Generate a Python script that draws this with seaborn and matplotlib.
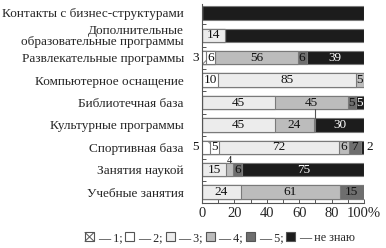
import numpy as np
import pandas as pd
import matplotlib
matplotlib.use("Agg")
import matplotlib.pyplot as plt
from matplotlib.patches import Patch, Rectangle
from matplotlib.lines import Line2D
from matplotlib.legend_handler import HandlerBase
import seaborn as sns

categories = [
    "Контакты с бизнес-структурами",
    "Дополнительные\nобразовательные программы",
    "Развлекательные программы",
    "Компьютерное оснащение",
    "Библиотечная база",
    "Культурные программы",
    "Спортивная база",
    "Занятия наукой",
    "Учебные занятия",
]
series_names = ["1", "2", "3", "4", "5", "не знаю"]
s1 = [0, 0, 3, 0, 0, 0, 5, 0, 0]
s2 = [0, 0, 6, 10, 0, 0, 5, 0, 0]
s3 = [0, 14, 0, 85, 45, 45, 72, 15, 24]
s4 = [0, 0, 56, 5, 45, 24, 6, 4, 61]
s5 = [0, 0, 6, 0, 5, 1, 7, 6, 15]
s6 = [100, 86, 39, 0, 5, 30, 2, 75, 0]
x_ticks = [0, 20, 40, 60, 80, 100]
x_ticklabels = ["0", "20", "40", "60", "80", "100%"]

colors = ["#ffffff", "#ffffff", "#ececec", "#bcbcbc", "#6e6e6e", "#1c1c1c"]
hatches = ["x", None, None, None, None, None]
no_label = {(0, 5), (1, 5), (5, 4)}

sns.set_theme(style="white")
plt.rcParams["font.family"] = ["Liberation Serif", "DejaVu Serif"]
plt.rcParams["hatch.linewidth"] = 0.7

raw = np.array([s1, s2, s3, s4, s5, s6], dtype=float)  # series x rows
totals = raw.sum(axis=0)
norm = raw / totals * 100.0
cum = np.cumsum(norm, axis=0)

df = pd.DataFrame({"category": categories})
for k in range(len(series_names)):
    df[f"cum{k}"] = cum[k]

fig = plt.figure(figsize=(3.86, 2.48), dpi=100)
ax = fig.add_axes([0.523, 0.181, 0.420, 0.803])

for k in range(len(series_names) - 1, -1, -1):
    kw = {}
    if hatches[k]:
        kw["hatch"] = hatches[k]
    sns.barplot(data=df, x=f"cum{k}", y="category", orient="h", color=colors[k],
                saturation=1, width=0.6, edgecolor="#7a7a7a", linewidth=0.8,
                ax=ax, **kw)

ax.set_xlim(0, 100)
ax.set_ylim(8.49, -0.4)
ax.set_xlabel("")
ax.set_ylabel("")
sns.despine(ax=ax, top=True, right=True)
for sp in ["left", "bottom"]:
    ax.spines[sp].set_color("#555555")
    ax.spines[sp].set_linewidth(0.8)

ax.set_xticks(x_ticks)
ax.set_xticklabels(x_ticklabels, fontsize=10.5)
ax.set_xticks(np.arange(10, 100, 10), minor=True)
ax.tick_params(axis="x", which="both", direction="in", length=3, width=0.7,
               color="#555555", bottom=True, pad=3)
ax.set_yticks(range(len(categories)))
ax.set_yticklabels(categories, fontsize=9.5, linespacing=0.95)
ax.set_yticks(np.arange(0.5, len(categories) - 1, 1.0), minor=True)
ax.tick_params(axis="y", which="major", length=0, pad=13)
ax.tick_params(axis="y", which="minor", direction="in", length=3, width=0.7,
               color="#555555", left=True)

# segment labels
for k in range(len(series_names)):
    for r in range(len(categories)):
        v = raw[k, r]
        if v == 0 or (r, k) in no_label:
            continue
        left = cum[k, r] - norm[k, r]
        right = cum[k, r]
        mid = (left + right) / 2
        txt = f"{int(v)}"
        tcolor = "white" if k == 5 else "#111111"
        if k == 0:
            ax.text(-2.0, r, txt, ha="right", va="center", fontsize=9.5,
                    color="#111111", clip_on=False)
        elif norm[k, r] < 2.5 and k == 5:
            ax.text(right + 1.2, r, txt, ha="left", va="center", fontsize=9.5,
                    color="#111111", clip_on=False)
        elif norm[k, r] < 4.5:
            ax.text(mid, r - 0.42, txt, ha="center", va="center", fontsize=7.5,
                    color="#111111")
        else:
            ax.text(mid, r, txt, ha="center", va="center", fontsize=9.5,
                    color=tcolor)

# leader line for the thin segment in "Культурные программы"
r, k = 5, 4
mid = cum[k, r] - norm[k, r] / 2
ax.plot([mid, mid], [r - 0.3, r - 0.72], color="#555555", lw=0.8)


class CrossBoxHandler(HandlerBase):
    def create_artists(self, legend, orig_handle, xdescent, ydescent,
                       width, height, fontsize, trans):
        x0, y0 = -xdescent, -ydescent
        rect = Rectangle((x0, y0), width, height, facecolor="white",
                         edgecolor="#555555", linewidth=0.8, transform=trans)
        l1 = Line2D([x0, x0 + width], [y0, y0 + height], color="#555555",
                    lw=0.7, transform=trans)
        l2 = Line2D([x0, x0 + width], [y0 + height, y0], color="#555555",
                    lw=0.7, transform=trans)
        return [rect, l1, l2]


handles = [Patch(facecolor=colors[k], edgecolor="#555555", linewidth=0.8)
           for k in range(len(series_names))]
labels = [f"— {n};" for n in series_names[:-1]] + [f"— {series_names[-1]}"]
fig.legend(handles, labels, loc="center", bbox_to_anchor=(0.57, 0.04),
           ncol=6, frameon=False, fontsize=8.7, handlelength=0.75, handleheight=0.75,
           handletextpad=0.3, columnspacing=0.25, borderpad=0,
           handler_map={handles[0]: CrossBoxHandler()})

fig.savefig("out.png", dpi=100)
